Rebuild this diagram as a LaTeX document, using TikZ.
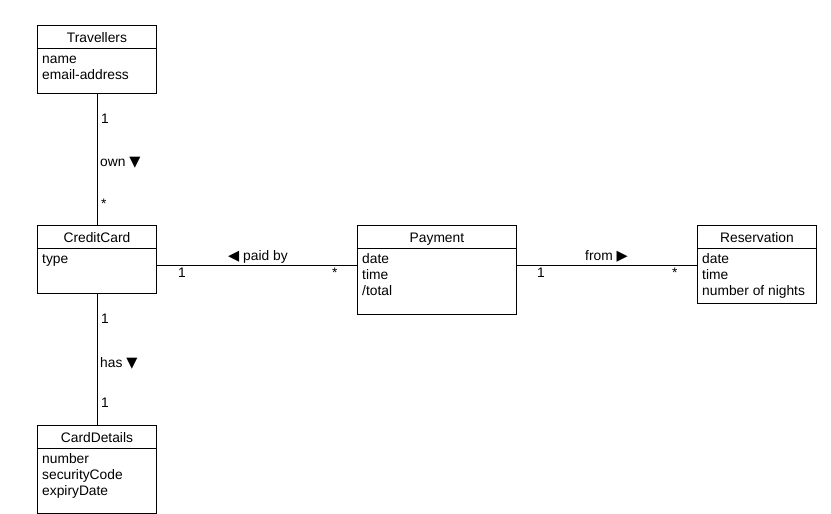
\documentclass[tikz,border=0pt]{standalone}
\usepackage{fontspec}
\setmainfont{Liberation Sans}
\newfontfamily\symfont{DejaVu Sans}
\newcommand{\trisym}[1]{{\symfont\fontsize{14.5}{16}\selectfont #1}}
\begin{document}
\begin{tikzpicture}[x=1pt,y=-1pt,
  font=\fontsize{13.8}{16}\selectfont,
  classbox/.style={draw=black,line width=0.9pt,anchor=north west,inner sep=0pt,fill=white},
  classname/.style={anchor=base,inner sep=0pt},
  attr/.style={anchor=base west,inner sep=0pt},
  lbl/.style={anchor=base west,inner sep=0pt},
  assoc/.style={draw=black,line width=0.9pt}]
\useasboundingbox (0,0) rectangle (831,514);

% class boxes
\node[classbox,minimum width=119pt,minimum height=68pt] (trav) at (37,25) {};
\node[classbox,minimum width=119pt,minimum height=68pt] (cc) at (37,225) {};
\node[classbox,minimum width=159pt,minimum height=89pt] (pay) at (357,225) {};
\node[classbox,minimum width=119pt,minimum height=78pt] (res) at (697,225) {};
\node[classbox,minimum width=119pt,minimum height=88pt] (cd) at (37,425) {};

% title separators
\foreach \c in {trav,cc,pay,res,cd}
  \draw[line width=0.9pt] ([yshift=-23pt]\c.north west) -- ([yshift=-23pt]\c.north east);

% class names
\node[classname] (travn) at ([yshift=-17pt]trav.north) {Travellers};
\node[classname] (ccn) at ([yshift=-17pt]cc.north) {CreditCard};
\node[classname] (payn) at ([yshift=-17pt]pay.north) {Payment};
\node[classname] (resn) at ([yshift=-17pt]res.north) {Reservation};
\node[classname] (cdn) at ([yshift=-17pt]cd.north) {CardDetails};

% attributes
\node[attr] (t1) at ([xshift=5pt,yshift=-38pt]trav.north west) {name};
\node[attr] (t2) at ([yshift=-16pt]t1.base west) {email-address};
\node[attr] (c1) at ([xshift=5pt,yshift=-38pt]cc.north west) {type};
\node[attr] (p1) at ([xshift=5pt,yshift=-38pt]pay.north west) {date};
\node[attr] (p2) at ([yshift=-16pt]p1.base west) {time};
\node[attr] (p3) at ([yshift=-16pt]p2.base west) {/total};
\node[attr] (r1) at ([xshift=5pt,yshift=-38pt]res.north west) {date};
\node[attr] (r2) at ([yshift=-16pt]r1.base west) {time};
\node[attr] (r3) at ([yshift=-16pt]r2.base west) {number of nights};
\node[attr] (d1) at ([xshift=5pt,yshift=-38pt]cd.north west) {number};
\node[attr] (d2) at ([yshift=-16pt]d1.base west) {securityCode};
\node[attr] (d3) at ([yshift=-16pt]d2.base west) {expiryDate};

% associations
\coordinate (hline) at ([yshift=-6pt]cc.east);
\draw[assoc] (trav.south) -- (cc.north);
\draw[assoc] (cc.south) -- (cd.north);
\draw[assoc] (hline) -- (hline -| pay.west);
\draw[assoc] (pay.east |- hline) -- (res.west |- hline);

% association labels and multiplicities
\node[lbl] (m1) at (101,123) {1};
\node[lbl] (own) at (100,166) {own \trisym{▼}};
\node[lbl] (m2) at (101,208) {*};
\node[lbl] (m3) at (101,323) {1};
\node[lbl] (has) at (100,367) {has \trisym{▼}};
\node[lbl] (m4) at (101,407) {1};
\node[lbl] (paid) at (228,260) {\trisym{◀} paid by};
\node[lbl] (m5) at (178,277) {1};
\node[lbl] (m6) at (332,277) {*};
\node[lbl] (from) at (585,260) {from \trisym{▶}};
\node[lbl] (m7) at (537,277) {1};
\node[lbl] (m8) at (672,277) {*};
\end{tikzpicture}
\end{document}
